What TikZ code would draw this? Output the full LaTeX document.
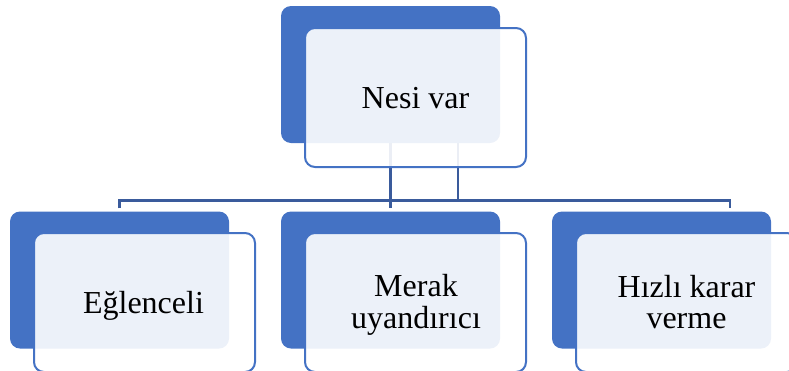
\documentclass[tikz,border=0pt]{standalone}
\usepackage{fontspec}
\setmainfont{Liberation Serif}
\usetikzlibrary{backgrounds}
\definecolor{accent}{HTML}{4472C4}
\definecolor{linkblue}{HTML}{3A5B9C}
\tikzset{
  backbox/.style={fill=accent, draw=none, rounded corners=10pt,
    minimum width=219pt, minimum height=137pt, inner sep=0pt},
  frontbox/.style={fill=white, fill opacity=0.9, draw=accent, line width=2pt,
    rounded corners=10pt, minimum width=221pt, minimum height=139pt, inner sep=0pt},
  conn/.style={draw=linkblue, line width=2.2pt},
  boxtext/.style={font=\fontsize{32}{31.5}\selectfont, align=center,
    anchor=base, text=black, inner sep=0pt}
}
\begin{document}
\begin{tikzpicture}[x=1pt,y=-1pt]
  \useasboundingbox (0,0) rectangle (789,370);
  \clip (0,0) rectangle (789,370);

  % parent
  \node[backbox]  (pb) at (390.5,74.5) {};
  \node[frontbox] (pf) at (415.5,97.5) {};
  % children
  \node[backbox]  (lb) at (119.5,280) {};
  \node[frontbox] (lf) at (144.5,302.5) {};
  \node[backbox]  (mb) at (390.5,280) {};
  \node[frontbox] (mf) at (415.5,302.5) {};
  \node[backbox]  (rb) at (661.5,280) {};
  \node[frontbox] (rf) at (686.5,302.5) {};

  % labels (base anchor sits on the last line)
  \node[boxtext] (pt) at (415.5,108) {Nesi var};
  \node[boxtext] (lt) at (143.5,313) {Eğlenceli};
  \node[boxtext] (mt) at (416,328.2) {Merak\\uyandırıcı};
  \node[boxtext] (rt) at (686.5,328.5) {Hızlı karar\\verme};

  % connectors, behind the boxes
  \coordinate (hubtop) at (458,143);
  \coordinate (hub) at (458,200.5);
  \coordinate (rend) at (730,208);
  \begin{scope}[on background layer]
    \draw[conn] (pb.south) -- ([yshift=3pt]mb.north);
    \draw[conn] (hubtop) -- (hub);
    \draw[conn] ([yshift=3pt]lb.north) |- (hub) -| (rend);
  \end{scope}
\end{tikzpicture}
\end{document}
